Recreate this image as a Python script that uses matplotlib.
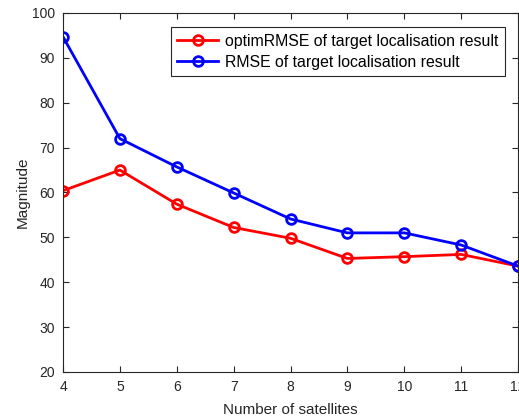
import matplotlib
matplotlib.use('Agg')
import matplotlib.pyplot as plt

plt.rcParams['font.family'] = ['Liberation Sans', 'DejaVu Sans']

satellites = [4, 5, 6, 7, 8, 9, 10, 11, 12]
optim_rmse = [60.4, 65.0, 57.4, 52.2, 49.8, 45.3, 45.7, 46.2, 43.6]
rmse = [94.7, 72.0, 65.7, 59.9, 54.1, 51.0, 51.0, 48.3, 43.6]
labels = ['optimRMSE of target localisation result',
          'RMSE of target localisation result']

fig = plt.figure(figsize=(5.19, 4.2), dpi=100)
ax = fig.add_axes([0.1214, 0.1143, 0.8767, 0.8548])

ax.plot(satellites, optim_rmse, color='#ff0000', lw=2, marker='o', ms=7,
        mfc='none', mew=2, label=labels[0])
ax.plot(satellites, rmse, color='#0000ff', lw=2, marker='o', ms=7,
        mfc='none', mew=2, label=labels[1])

ax.set_xlim(4, 12)
ax.set_ylim(20, 100)
ax.set_xticks(satellites)
ax.set_yticks(range(20, 101, 10))
ax.tick_params(direction='in', top=True, right=True, labelsize=10,
               colors='#262626', length=4, width=0.8, pad=6)
for s in ax.spines.values():
    s.set_color('#262626')
    s.set_linewidth(0.8)

ax.set_xlabel('Number of satellites', fontsize=11, color='#262626', labelpad=6)
ax.set_ylabel('Magnitude', fontsize=11, color='#262626', labelpad=1)

leg = ax.legend(loc='upper right', bbox_to_anchor=(0.971, 0.961),
                borderaxespad=0, fontsize=11.4,
                fancybox=False, framealpha=1, edgecolor='#262626',
                handlelength=2.6, handletextpad=0.4, borderpad=0.42,
                labelspacing=0.38)
leg.get_frame().set_linewidth(0.8)

fig.savefig('out.png', dpi=100)
